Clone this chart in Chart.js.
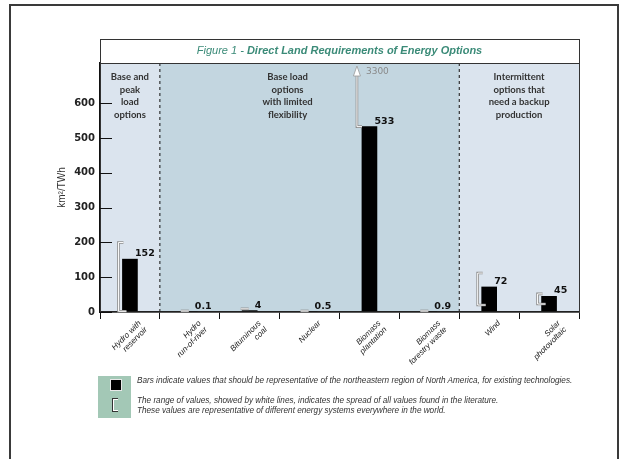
<!DOCTYPE html>
<html>
<head>
<meta charset="utf-8">
<script src="https://cdn.jsdelivr.net/npm/chart.js@4.4.1/dist/chart.umd.min.js"></script>
<style>
  body { margin: 0; background: #fff; }
  #wrap { position: relative; width: 621px; height: 459px; overflow: hidden; }
  #frame { position: absolute; left: 9px; top: 4px; width: 610px; height: 500px; border: 2px solid #3a3a3a; box-sizing: border-box; }
  canvas { position: absolute; left: 0; top: 0; }
  .key { position: absolute; left: 98px; top: 376px; width: 33px; height: 42px; background: #a3c8b6; }
  .barIcon { position: absolute; left: 110px; top: 379px; width: 10px; height: 10px; background: #000; border: 1px solid #e8e8e8; }
  .rangeIcon { position: absolute; left: 112px; top: 398px; width: 5px; height: 12px; border: 1.5px solid #333; border-right: none; box-shadow: inset 1px 1px 0 #fff, inset 0 -1px 0 #fff; }
  .note { position: absolute; left: 137px; font: italic 8.2px "Liberation Sans", sans-serif; color: #333; white-space: nowrap; }
</style>
</head>
<body>
<div id="wrap">
  <div id="frame"></div>
  <canvas id="landChart" width="621" height="459"></canvas>
  <div class="key"></div>
  <div class="barIcon"></div>
  <div class="rangeIcon"></div>
  <div class="note" style="top:376px">Bars indicate values that should be representative of the northeastern region of North America, for existing technologies.</div>
  <div class="note" style="top:396px">The range of values, showed by white lines, indicates the spread of all values found in the literature.</div>
  <div class="note" style="top:406px">These values are representative of different energy systems everywhere in the world.</div>
</div>
<script>
// categories along the x-axis
var categories = [['Hydro with', 'reservoir'], ['Hydro', 'run-of-river'], ['Bituminous', 'coal'], 'Nuclear',
  ['Biomass', 'plantation'], ['Biomass', 'forestry waste'], 'Wind', ['Solar', 'photovoltaic']];
// bar values, km2/TWh
var landUse = [152, 0.1, 4, 0.5, 533, 0.9, 72, 45];
// spread found in the literature (white lines)
var rangeLow = [2, 0, 1, 0, 533, 0, 20, 23];
var rangeHigh = [200, 3, 9, 3, 3300, 3, 112, 52];
var yTicks = [0, 100, 200, 300, 400, 500, 600];
// group headings and the last category of each group
var groups = [['Base and', 'peak', 'load', 'options'], ['Base load', 'options', 'with limited', 'flexibility'],
  ['Intermittent', 'options that', 'need a backup', 'production']];
var groupEnds = [0, 5, 7];

function boundary(x, i) {
  return (x.getPixelForValue(i) + x.getPixelForValue(i + 1)) / 2;
}

function whiteLine(ctx, pts) {
  [['#8c8c8c', 2.6], ['#ffffff', 1]].forEach(function (s) {
    ctx.strokeStyle = s[0];
    ctx.lineWidth = s[1];
    ctx.beginPath();
    pts.forEach(function (p, k) { k ? ctx.lineTo(p[0], p[1]) : ctx.moveTo(p[0], p[1]); });
    ctx.stroke();
  });
}

var panels = {
  id: 'panels',
  beforeDraw: function (chart) {
    var ctx = chart.ctx, a = chart.chartArea, x = chart.scales.x;
    var b1 = boundary(x, groupEnds[0]), b2 = boundary(x, groupEnds[1]);
    ctx.save();
    ctx.fillStyle = '#dbe4ee';
    ctx.fillRect(a.left, a.top, b1 - a.left, a.bottom - a.top);
    ctx.fillRect(b2, a.top, a.right - b2, a.bottom - a.top);
    ctx.fillStyle = '#c3d6e0';
    ctx.fillRect(b1, a.top, b2 - b1, a.bottom - a.top);
    ctx.restore();
  },
  afterDatasetsDraw: function (chart) {
    var ctx = chart.ctx, a = chart.chartArea, x = chart.scales.x, y = chart.scales.y;
    var b1 = boundary(x, groupEnds[0]), b2 = boundary(x, groupEnds[1]);
    ctx.save();

    // dashed group separators
    ctx.strokeStyle = '#111';
    ctx.lineWidth = 1;
    ctx.setLineDash([3, 3]);
    [b1, b2].forEach(function (bx) {
      ctx.beginPath(); ctx.moveTo(bx, a.top); ctx.lineTo(bx, a.bottom); ctx.stroke();
    });
    ctx.setLineDash([]);

    // title row and frame
    ctx.strokeStyle = '#333';
    ctx.strokeRect(a.left + 0.5, 39.5, a.right - a.left, a.bottom - 39.5);
    ctx.beginPath(); ctx.moveTo(a.left, a.top + 0.5); ctx.lineTo(a.right, a.top + 0.5); ctx.stroke();
    ctx.fillStyle = '#fff';
    ctx.fillRect(a.left + 1, 40, a.right - a.left - 1, a.top - 40);
    var t1 = 'Figure 1 - ', t2 = 'Direct Land Requirements of Energy Options';
    ctx.font = 'italic 11px "Liberation Sans"';
    var w1 = ctx.measureText(t1).width;
    ctx.font = 'italic bold 11px "Liberation Sans"';
    var w2 = ctx.measureText(t2).width;
    var tx = (a.left + a.right) / 2 - (w1 + w2) / 2;
    ctx.fillStyle = '#3b8b78';
    ctx.textBaseline = 'middle';
    ctx.textAlign = 'left';
    ctx.font = 'italic 11px "Liberation Sans"';
    ctx.fillText(t1, tx, 51);
    ctx.font = 'italic bold 11px "Liberation Sans"';
    ctx.fillText(t2, tx + w1, 51);

    // group headings
    var centers = [(a.left + b1) / 2, (b1 + b2) / 2 - 22, (b2 + a.right) / 2];
    ctx.fillStyle = '#333';
    ctx.textAlign = 'center';
    ctx.font = 'bold 9.5px Lato';
    groups.forEach(function (g, gi) {
      g.forEach(function (line, li) { ctx.fillText(line, centers[gi], 77 + li * 12.7); });
    });

    // y ticks pointing inward
    ctx.strokeStyle = '#111';
    ctx.lineWidth = 1;
    yTicks.forEach(function (v) {
      var py = Math.round(y.getPixelForValue(v)) + 0.5;
      ctx.beginPath(); ctx.moveTo(a.left, py); ctx.lineTo(a.left + 12, py); ctx.stroke();
    });

    // literature ranges
    var bars = chart.getDatasetMeta(0).data;
    bars.forEach(function (bar, i) {
      var left = bar.x - bar.width / 2;
      var hi = rangeHigh[i], lo = rangeLow[i];
      if (hi < 20) {
        whiteLine(ctx, [[bar.x - 9, y.getPixelForValue(hi)], [bar.x - 1, y.getPixelForValue(hi)]]);
      } else if (hi > y.max) {
        var lx = left - 5, ly = y.getPixelForValue(lo);
        whiteLine(ctx, [[left, ly], [lx, ly], [lx, a.top + 10]]);
        ctx.beginPath();
        ctx.moveTo(lx, a.top + 3); ctx.lineTo(lx - 3.5, a.top + 13); ctx.lineTo(lx + 3.5, a.top + 13); ctx.closePath();
        ctx.fillStyle = '#fff'; ctx.fill();
        ctx.strokeStyle = '#9a9a9a'; ctx.lineWidth = 0.8; ctx.stroke();
        ctx.fillStyle = '#8a8a8a';
        ctx.textAlign = 'left';
        ctx.font = '9px "DejaVu Sans"';
        ctx.fillText(String(hi), lx + 9, a.top + 9);
      } else {
        var vx = left - 4;
        whiteLine(ctx, [[vx + 5, y.getPixelForValue(hi)], [vx, y.getPixelForValue(hi)],
          [vx, y.getPixelForValue(lo)], [left + 4, y.getPixelForValue(lo)]]);
      }
    });

    // value labels
    ctx.fillStyle = '#111';
    ctx.textAlign = 'left';
    ctx.textBaseline = 'alphabetic';
    ctx.font = 'bold 9.5px "DejaVu Sans"';
    bars.forEach(function (bar, i) {
      ctx.fillText(String(landUse[i]), bar.x + 5, bar.y - 3);
    });
    ctx.restore();
  }
};

var ctx = document.getElementById('landChart');
var landChart = new Chart(ctx, {
  type: 'bar',
  data: {
    labels: categories,
    datasets: [{
      data: landUse,
      backgroundColor: '#000',
      barThickness: 15
    }]
  },
  options: {
    responsive: false,
    animation: false,
    layout: { padding: { left: 40, top: 63, right: 42, bottom: 87 } },
    plugins: { legend: { display: false }, tooltip: { enabled: false } },
    scales: {
      x: {
        offset: true,
        grid: { offset: true, drawOnChartArea: false, tickLength: 7, color: '#111' },
        border: { color: '#111', width: 1.5 },
        ticks: {
          minRotation: 45, maxRotation: 45, padding: 0, labelOffset: 10, autoSkip: false,
          color: '#222', font: { family: 'Liberation Sans', style: 'italic', size: 8, lineHeight: 1.1 }
        },
        afterFit: function (s) { s.height = 60; }
      },
      y: {
        min: 0,
        max: 716,
        afterBuildTicks: function (s) { s.ticks = yTicks.map(function (v) { return { value: v }; }); },
        afterFit: function (s) { s.width = 60; },
        grid: { drawOnChartArea: false, drawTicks: false },
        border: { color: '#111', width: 1.5 },
        ticks: { padding: 5, color: '#222', font: { family: 'DejaVu Sans', weight: 'bold', size: 10 } },
        title: {
          display: true, text: 'km²/TWh', color: '#333', padding: { top: 16, bottom: 0 },
          font: { family: 'Liberation Sans', size: 10 }
        }
      }
    }
  },
  plugins: [panels]
});
</script>
</body>
</html>
